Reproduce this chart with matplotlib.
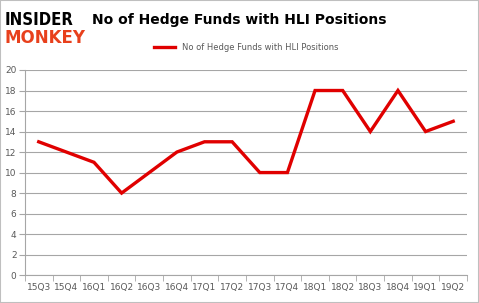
import numpy as np
import matplotlib.pyplot as plt

quarters = ['15Q3', '15Q4', '16Q1', '16Q2', '16Q3', '16Q4', '17Q1', '17Q2',
            '17Q3', '17Q4', '18Q1', '18Q2', '18Q3', '18Q4', '19Q1', '19Q2']
funds = [13, 12, 11, 8, 10, 12, 13, 13, 10, 10, 18, 18, 14, 18, 14, 15]
y_ticks = np.arange(0, 21, 2)

title = 'No of Hedge Funds with HLI Positions'
grey = '#595959'

fig = plt.figure(figsize=(4.79, 3.03), dpi=100)
ax = fig.add_axes([0.052, 0.092, 0.923, 0.677])

x = np.arange(len(quarters))
ax.plot(x, funds, '-', color='#e00000', lw=2.4, label=title, solid_joinstyle='miter')

ax.set_xlim(-0.5, len(quarters) - 0.5)
ax.set_ylim(0, 20)
ax.set_yticks(y_ticks)
ax.set_yticklabels([str(v) for v in y_ticks], fontsize=6.5, color=grey)
ax.set_xticks(x)
ax.set_xticklabels(quarters, fontsize=6.5, color=grey)
ax.set_xticks(np.arange(-0.5, len(quarters)), minor=True)
ax.tick_params(axis='x', which='major', length=0, pad=6)
ax.tick_params(axis='x', which='minor', length=4, color='#a6a6a6')
ax.tick_params(axis='y', length=4, color='#a6a6a6', pad=2)
ax.grid(axis='y', color='#a6a6a6', lw=0.8)
ax.set_axisbelow(True)
for s in ['top', 'right']:
    ax.spines[s].set_visible(False)
ax.spines['left'].set_color('#a6a6a6')
ax.spines['bottom'].set_color('#a6a6a6')

ax.legend(loc='lower center', bbox_to_anchor=(0.5, 1.05), frameon=False,
          fontsize=6, handlelength=2.6, labelcolor=grey)

fig.text(0.5, 0.935, title, ha='center', va='center', fontsize=10, weight='bold')
fig.text(0.01, 0.935, 'INSIDER', ha='left', va='center', fontsize=12,
         weight='heavy', color='black', family='DejaVu Sans', stretch='condensed')
fig.text(0.01, 0.875, 'MONKEY', ha='left', va='center', fontsize=12,
         weight='heavy', color='#e8401c', family='DejaVu Sans')

fig.patches.append(plt.Rectangle((0, 0), 1, 1, transform=fig.transFigure,
                                 fill=False, ec='#bfbfbf', lw=1.5))
fig.savefig('out.png', dpi=100)
